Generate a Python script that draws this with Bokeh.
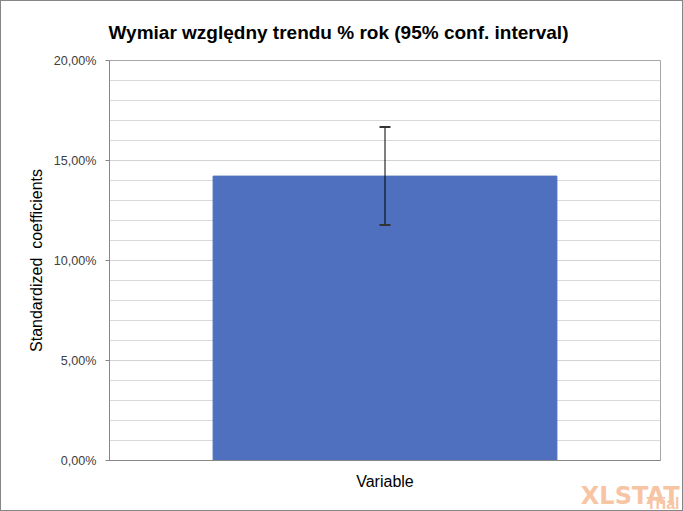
from bokeh.plotting import figure
from bokeh.models import (ColumnDataSource, Whisker, TeeHead, Title,
                          SingleIntervalTicker, CustomJSTickFormatter, Range1d)
from bokeh.embed import file_html
from bokeh.resources import INLINE

# Standardized coefficient (in %) and its 95% confidence interval
categories = ["Variable"]
coefficients = [14.22]
ci_lower = [11.78]
ci_upper = [16.67]

title_text = "Wymiar względny trendu % rok  (95% conf. interval)"
y_label = "Standardized\u00a0 coefficients"

FONT = "Liberation Sans"

src = ColumnDataSource(dict(cat=categories, coef=coefficients,
                            lo=ci_lower, hi=ci_upper))

p = figure(width=683, height=511, x_range=categories, y_range=Range1d(0, 20),
           output_backend="svg", toolbar_location=None,
           min_border_left=108, min_border_right=24,
           min_border_top=59, min_border_bottom=52)
p.x_range.range_padding = 0

p.vbar(x="cat", top="coef", width=0.624, source=src,
       fill_color="#4F70BE", line_color="#4F70BE")

err = Whisker(base="cat", lower="lo", upper="hi", source=src, level="overlay",
              line_color="black", line_width=1,
              upper_head=TeeHead(size=11, line_color="#333333", line_width=2),
              lower_head=TeeHead(size=11, line_color="#333333", line_width=2))
p.add_layout(err)

# title
p.title.text = title_text
p.title.align = "left"
p.title.offset = -1
p.title.text_font = FONT
p.title.text_font_size = "19px"
p.title.text_font_style = "bold"
p.title.text_color = "#000000"
p.title.standoff = 35

# y axis: 5% majors with 1% gridlines
p.yaxis.ticker = SingleIntervalTicker(interval=5, num_minor_ticks=5)
p.yaxis.formatter = CustomJSTickFormatter(
    code="return tick.toFixed(2).replace('.', ',') + '%';")
p.yaxis.axis_label = y_label
p.yaxis.axis_label_text_font = FONT
p.yaxis.axis_label_text_font_size = "16px"
p.yaxis.axis_label_text_font_style = "normal"
p.yaxis.axis_label_text_color = "#000000"
p.yaxis.axis_label_standoff = 6
p.yaxis.major_label_text_font = FONT
p.yaxis.major_label_text_font_size = "12.6px"
p.yaxis.major_label_text_color = "#404040"
p.yaxis.major_label_standoff = 9
p.yaxis.major_tick_in = 0
p.yaxis.major_tick_out = 4
p.yaxis.minor_tick_line_color = None
p.yaxis.axis_line_color = "#868686"
p.yaxis.major_tick_line_color = "#868686"

p.xaxis.major_label_text_font = FONT
p.xaxis.major_label_text_font_size = "16px"
p.xaxis.major_label_text_color = "#000000"
p.xaxis.major_label_standoff = 6
p.xaxis.major_tick_line_color = None
p.xaxis.axis_line_color = "#868686"

p.xgrid.grid_line_color = None
p.ygrid.grid_line_color = "#D3D3D3"
p.ygrid.minor_grid_line_color = "#D9D9D9"
p.outline_line_color = "#A6A6A6"

# trial watermark, stacked under the x axis at the right-hand side
p.add_layout(Title(text="XLSTAT", align="right", offset=-19, standoff=-35,
                   text_font="DejaVu Sans", text_font_size="24px",
                   text_font_style="bold", text_color="#F7C5A3"), "below")
p.add_layout(Title(text="Trial", align="right", offset=-19, standoff=0,
                   text_font=FONT, text_font_size="16px",
                   text_font_style="bold", text_color="#F7C5A3"), "below")

p.styles = {"border": "1px solid #868686", "box-sizing": "border-box"}

open("out.html", "w").write(file_html(p, INLINE))
